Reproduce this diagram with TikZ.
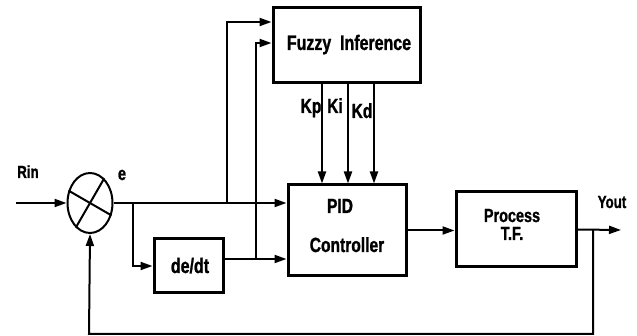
\documentclass[tikz,border=0pt]{standalone}
\usepackage{fontspec}
\newfontfamily\lab{Liberation Sans}[FakeStretch=0.76,FakeBold=1.2]
\usetikzlibrary{arrows.meta,shapes.geometric,calc}
\begin{document}
\begin{tikzpicture}[x=1pt,y=-1pt,
  blk/.style={draw,line width=3pt,inner sep=0pt},
  conn/.style={line width=2pt,-{Triangle[length=12pt,width=8pt]}},
  wire/.style={line width=2pt},
  txt/.style={inner sep=0pt,anchor=base,font=\lab\bfseries}]
\useasboundingbox (0,0) rectangle (637,336);
% blocks
\node[blk,minimum width=147pt,minimum height=75pt] (fuzzy) at (346.5,45.5) {};
\node[blk,minimum width=118pt,minimum height=91pt] (pid) at (347,230.5) {};
\node[blk,minimum width=120pt,minimum height=75pt] (proc) at (516,229.5) {};
\node[blk,minimum width=69pt,minimum height=54pt] (ddt) at (188.5,266) {};
\node[draw,ellipse,line width=2pt,minimum width=45pt,minimum height=60pt,inner sep=0pt] (sum) at (90,203) {};
\draw[line width=2pt] (sum.150) -- (sum.-30);
\draw[line width=2pt] (sum.60) -- (sum.240);
% texts
\node[txt,font=\lab\bfseries\fontsize{21}{21}\selectfont] (tf) at (349,50) {Fuzzy\ \ Inference};
\node[txt,font=\lab\bfseries\fontsize{20.5}{20}\selectfont] (tp) at (340,213) {PID};
\node[txt,font=\lab\bfseries\fontsize{20.5}{20}\selectfont] (tc) at (347,252) {Controller};
\node[txt,font=\lab\bfseries\fontsize{19}{18.5}\selectfont] (tpr) at (512,222) {Process};
\node[txt,font=\lab\bfseries\fontsize{19}{18.5}\selectfont] (ttf) at (512,240) {T.F.};
\node[txt,font=\lab\bfseries\fontsize{21}{20}\selectfont] (td) at (190,273) {de/dt};
\node[txt,font=\lab\bfseries\fontsize{20.5}{20}\selectfont] (kp) at (311,113) {Kp};
\node[txt,font=\lab\bfseries\fontsize{20.5}{20}\selectfont] (ki) at (335,113) {Ki};
\node[txt,font=\lab\bfseries\fontsize{20.5}{20}\selectfont] (kd) at (362,118) {Kd};
\node[txt,font=\lab\bfseries\fontsize{17.5}{16}\selectfont] (trin) at (28,178) {Rin};
\node[txt,font=\lab\bfseries\fontsize{19}{16}\selectfont] (te) at (122,180) {e};
\node[txt,font=\lab\bfseries\fontsize{17.5}{16}\selectfont] (tyout) at (612,208) {Yout};
% coordinates
\coordinate (rin) at (16,203);
\coordinate (yout) at (621,230);
\coordinate (b1) at (133,203);
\coordinate (b2) at (227,203);
\coordinate (dout) at (223,259);
\coordinate (b3) at (256,259);
\coordinate (fb) at (593,230);
% connectors
\draw[conn] (rin) -- (sum.west);
\draw[conn] (sum.east) -- (sum.east -| pid.west);
\draw[conn] (b1) |- (ddt.west);
\draw[conn] (dout) -- (dout -| pid.west);
\draw[conn] (b2) |- (fuzzy.west |- 0,22);
\draw[conn] (b3) |- (fuzzy.west |- 0,43);
\draw[conn] (fuzzy.south -| 322,0) -- (pid.north -| 322,0);
\draw[conn] (fuzzy.south -| 348,0) -- (pid.north -| 348,0);
\draw[conn] (fuzzy.south -| 374,0) -- (pid.north -| 374,0);
\draw[conn] (pid.east) -- (pid.east -| proc.west);
\draw[conn] (proc.east) -- (yout);
\draw[conn] (fb) -- (593,334) -- (89,334) -- (sum.south);
\end{tikzpicture}
\end{document}
